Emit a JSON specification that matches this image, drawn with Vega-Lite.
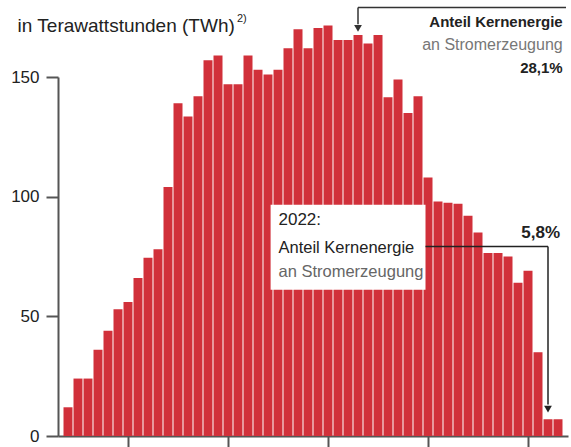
{
  "$schema": "https://vega.github.io/schema/vega-lite/v6.json",
  "width": 510,
  "height": 359,
  "autosize": {"type": "none"},
  "padding": {"left": 58, "top": 77, "right": 3, "bottom": 11},
  "background": "white",
  "config": {"view": {"stroke": null}, "font": "Liberation Sans"},
  "datasets": {
    "kernenergie": [
      {"jahr": 1974, "twh": 12}, {"jahr": 1975, "twh": 24}, {"jahr": 1976, "twh": 24},
      {"jahr": 1977, "twh": 36}, {"jahr": 1978, "twh": 44}, {"jahr": 1979, "twh": 53},
      {"jahr": 1980, "twh": 56}, {"jahr": 1981, "twh": 66}, {"jahr": 1982, "twh": 74.5},
      {"jahr": 1983, "twh": 78}, {"jahr": 1984, "twh": 104}, {"jahr": 1985, "twh": 139},
      {"jahr": 1986, "twh": 133.5}, {"jahr": 1987, "twh": 142}, {"jahr": 1988, "twh": 157},
      {"jahr": 1989, "twh": 159}, {"jahr": 1990, "twh": 147}, {"jahr": 1991, "twh": 147},
      {"jahr": 1992, "twh": 159}, {"jahr": 1993, "twh": 153}, {"jahr": 1994, "twh": 151},
      {"jahr": 1995, "twh": 153}, {"jahr": 1996, "twh": 162}, {"jahr": 1997, "twh": 170},
      {"jahr": 1998, "twh": 162}, {"jahr": 1999, "twh": 170.5}, {"jahr": 2000, "twh": 171.5},
      {"jahr": 2001, "twh": 165.5}, {"jahr": 2002, "twh": 165.5}, {"jahr": 2003, "twh": 167.5},
      {"jahr": 2004, "twh": 164}, {"jahr": 2005, "twh": 167.5}, {"jahr": 2006, "twh": 141.5},
      {"jahr": 2007, "twh": 149}, {"jahr": 2008, "twh": 135}, {"jahr": 2009, "twh": 142},
      {"jahr": 2010, "twh": 108}, {"jahr": 2011, "twh": 98}, {"jahr": 2012, "twh": 97.5},
      {"jahr": 2013, "twh": 97}, {"jahr": 2014, "twh": 92}, {"jahr": 2015, "twh": 85},
      {"jahr": 2016, "twh": 76.5}, {"jahr": 2017, "twh": 76.5}, {"jahr": 2018, "twh": 75},
      {"jahr": 2019, "twh": 64}, {"jahr": 2020, "twh": 69}, {"jahr": 2021, "twh": 35},
      {"jahr": 2022, "twh": 7}, {"jahr": 2023, "twh": 7}
    ]
  },
  "layer": [
    {
      "data": {"name": "kernenergie"},
      "mark": {"type": "bar", "color": "#d1303a", "width": 9},
      "encoding": {
        "x": {
          "field": "jahr", "type": "quantitative",
          "scale": {"domain": [1973.5, 2023.5], "nice": false, "zero": false},
          "axis": {"title": null, "labels": false, "grid": false, "values": [1980, 1990, 2000, 2010, 2020],
                   "domainColor": "#555", "domainWidth": 2, "tickColor": "#555", "tickWidth": 2, "tickSize": 12}
        },
        "y": {
          "field": "twh", "type": "quantitative",
          "scale": {"domain": [0, 150], "nice": false},
          "axis": {"title": null, "grid": false, "values": [0, 50, 100, 150],
                   "domainColor": "#555", "domainWidth": 2, "tickColor": "#555", "tickWidth": 2, "tickSize": 12,
                   "labelFont": "Liberation Sans", "labelFontSize": 17, "labelColor": "#222", "labelPadding": 7}
        }
      }
    },
    {
      "data": {"values": [{}]},
      "mark": {"type": "text", "align": "left", "baseline": "middle", "fontSize": 19, "color": "#222", "text": "in Terawattstunden (TWh)"},
      "encoding": {"x": {"datum": 1968.96, "type": "quantitative"}, "y": {"datum": 171.3, "type": "quantitative"}}
    },
    {
      "data": {"values": [{}]},
      "mark": {"type": "text", "align": "left", "baseline": "middle", "fontSize": 11, "color": "#222", "text": "2)"},
      "encoding": {"x": {"datum": 1990.9, "type": "quantitative"}, "y": {"datum": 174.4, "type": "quantitative"}}
    },
    {
      "data": {"values": [{}]},
      "mark": {"type": "rule", "color": "#333", "strokeWidth": 1.5},
      "encoding": {"x": {"datum": 2003, "type": "quantitative"}, "x2": {"datum": 2023.8}, "y": {"datum": 179, "type": "quantitative"}}
    },
    {
      "data": {"values": [{}]},
      "mark": {"type": "rule", "color": "#333", "strokeWidth": 1.5},
      "encoding": {"x": {"datum": 2003, "type": "quantitative"}, "y": {"datum": 179, "type": "quantitative"}, "y2": {"datum": 172}}
    },
    {
      "data": {"values": [{}]},
      "mark": {"type": "point", "shape": "triangle-down", "filled": true, "color": "#333", "size": 60, "opacity": 1},
      "encoding": {"x": {"datum": 2003, "type": "quantitative"}, "y": {"datum": 170.3, "type": "quantitative"}}
    },
    {
      "data": {"values": [{}]},
      "mark": {"type": "text", "align": "right", "baseline": "middle", "fontSize": 15, "fontWeight": "bold", "color": "#222", "text": "Anteil Kernenergie"},
      "encoding": {"x": {"datum": 2023.47, "type": "quantitative"}, "y": {"datum": 173.1, "type": "quantitative"}}
    },
    {
      "data": {"values": [{}]},
      "mark": {"type": "text", "align": "right", "baseline": "middle", "fontSize": 16, "color": "#777", "text": "an Stromerzeugung"},
      "encoding": {"x": {"datum": 2023.47, "type": "quantitative"}, "y": {"datum": 163.2, "type": "quantitative"}}
    },
    {
      "data": {"values": [{}]},
      "mark": {"type": "text", "align": "right", "baseline": "middle", "fontSize": 15, "fontWeight": "bold", "color": "#222", "text": "28,1%"},
      "encoding": {"x": {"datum": 2023.47, "type": "quantitative"}, "y": {"datum": 153.6, "type": "quantitative"}}
    },
    {
      "data": {"values": [{}]},
      "mark": {"type": "rect", "color": "white", "opacity": 1},
      "encoding": {"x": {"datum": 1994.26, "type": "quantitative"}, "x2": {"datum": 2009.75},
                   "y": {"datum": 96.6, "type": "quantitative"}, "y2": {"datum": 61.1}}
    },
    {
      "data": {"values": [{}]},
      "mark": {"type": "text", "align": "left", "baseline": "middle", "fontSize": 17, "color": "#222", "text": "2022:"},
      "encoding": {"x": {"datum": 1995.05, "type": "quantitative"}, "y": {"datum": 90.3, "type": "quantitative"}}
    },
    {
      "data": {"values": [{}]},
      "mark": {"type": "text", "align": "left", "baseline": "middle", "fontSize": 16.5, "color": "#222", "text": "Anteil Kernenergie"},
      "encoding": {"x": {"datum": 1995.05, "type": "quantitative"}, "y": {"datum": 78.6, "type": "quantitative"}}
    },
    {
      "data": {"values": [{}]},
      "mark": {"type": "text", "align": "left", "baseline": "middle", "fontSize": 16.5, "color": "#666", "text": "an Stromerzeugung"},
      "encoding": {"x": {"datum": 1995.05, "type": "quantitative"}, "y": {"datum": 68.6, "type": "quantitative"}}
    },
    {
      "data": {"values": [{}]},
      "mark": {"type": "rule", "color": "#222", "strokeWidth": 1.5},
      "encoding": {"x": {"datum": 2009.75, "type": "quantitative"}, "x2": {"datum": 2022}, "y": {"datum": 79.2, "type": "quantitative"}}
    },
    {
      "data": {"values": [{}]},
      "mark": {"type": "rule", "color": "#222", "strokeWidth": 1.5},
      "encoding": {"x": {"datum": 2022, "type": "quantitative"}, "y": {"datum": 79.2, "type": "quantitative"}, "y2": {"datum": 13.2}}
    },
    {
      "data": {"values": [{}]},
      "mark": {"type": "point", "shape": "triangle-down", "filled": true, "color": "#222", "size": 60, "opacity": 1},
      "encoding": {"x": {"datum": 2022, "type": "quantitative"}, "y": {"datum": 11.2, "type": "quantitative"}}
    },
    {
      "data": {"values": [{}]},
      "mark": {"type": "text", "align": "right", "baseline": "middle", "fontSize": 17, "fontWeight": "bold", "color": "#222", "text": "5,8%"},
      "encoding": {"x": {"datum": 2023.2, "type": "quantitative"}, "y": {"datum": 84.9, "type": "quantitative"}}
    }
  ]
}
